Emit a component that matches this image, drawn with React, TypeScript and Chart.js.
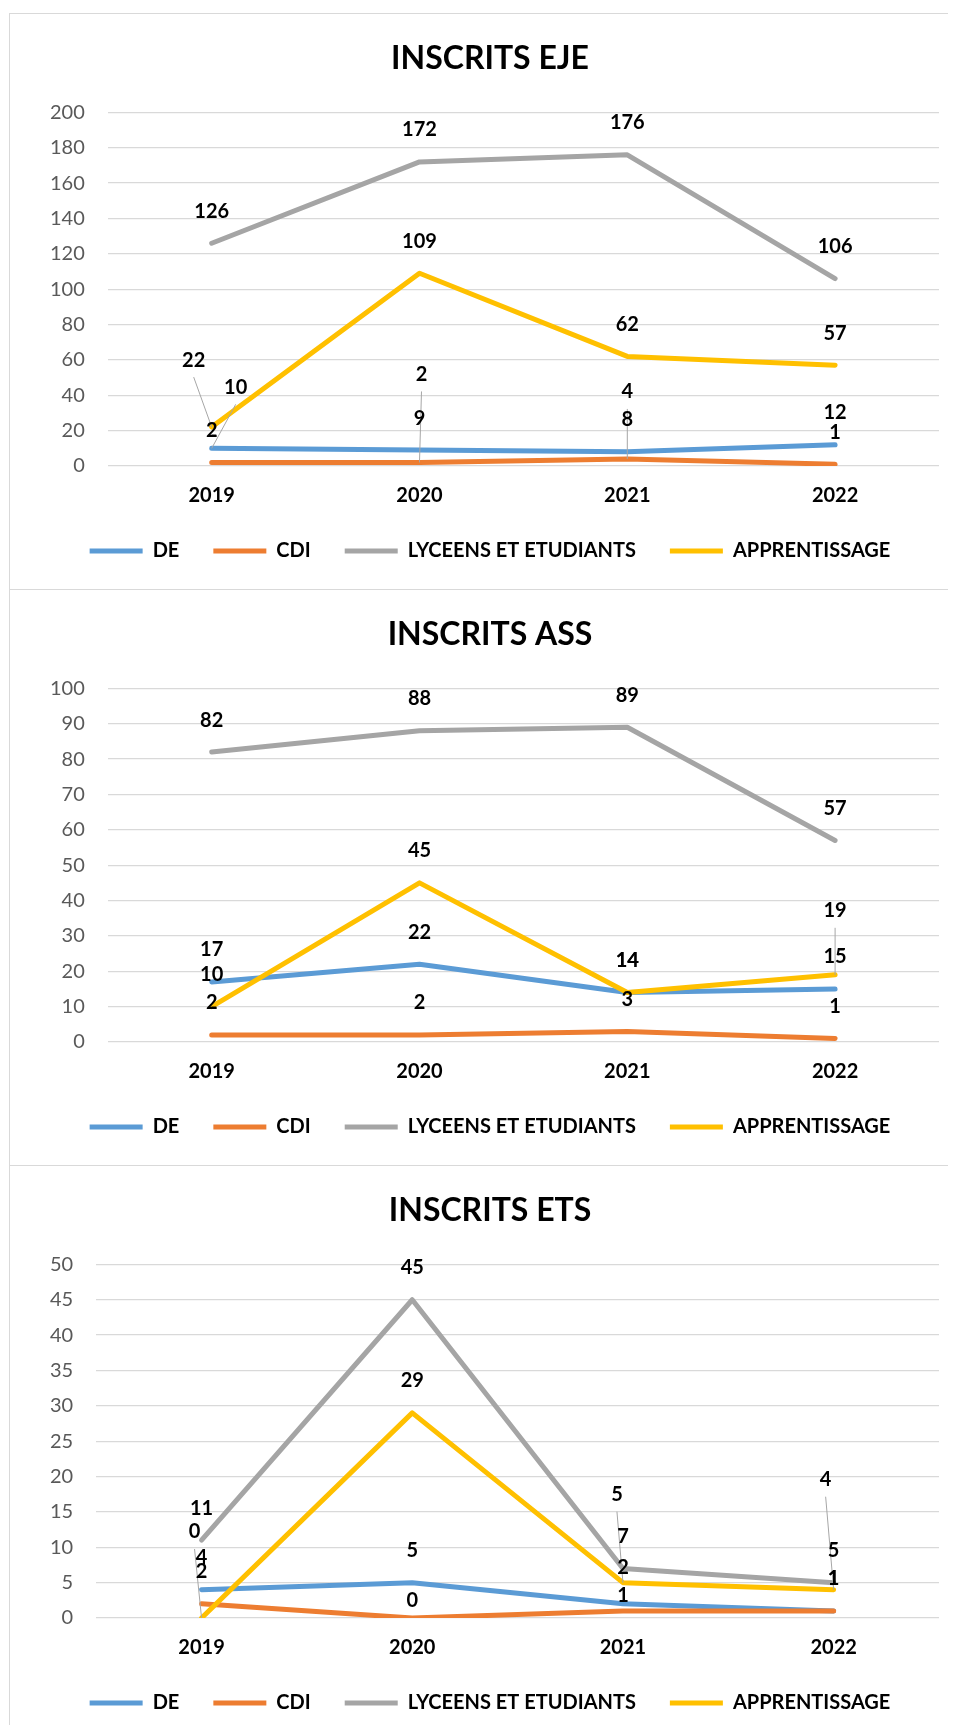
import React, { useEffect, useRef } from "react";
import { Chart, registerables } from "chart.js";

Chart.register(...registerables);

// ---------- data ----------
const categories = ["2019", "2020", "2021", "2022"];
const seriesNames = ["DE", "CDI", "LYCEENS ET ETUDIANTS", "APPRENTISSAGE"];
const seriesColors = ["#5B9BD5", "#ED7D31", "#A5A5A5", "#FFC000"];

const ejeTitle = "INSCRITS EJE";
const ejeDE = [10, 9, 8, 12];
const ejeCDI = [2, 2, 4, 1];
const ejeLycee = [126, 172, 176, 106];
const ejeApprent = [22, 109, 62, 57];
const ejeAxisMax = 200;
const ejeAxisStep = 20;

const assTitle = "INSCRITS ASS";
const assDE = [17, 22, 14, 15];
const assCDI = [2, 2, 3, 1];
const assLycee = [82, 88, 89, 57];
const assApprent = [10, 45, 14, 19];
const assAxisMax = 100;
const assAxisStep = 10;

const etsTitle = "INSCRITS ETS";
const etsDE = [4, 5, 2, 1];
const etsCDI = [2, 0, 1, 1];
const etsLycee = [11, 45, 7, 5];
const etsApprent = [0, 29, 5, 4];
const etsAxisMax = 50;
const etsAxisStep = 5;

// ---------- label placement (style, not data) ----------
type LabelTweak = { s: number; i: number; dx: number; dy: number; leader?: boolean };
const DEFAULT_LABEL_DY = -32;

const ejeLabelTweaks: LabelTweak[] = [
  { s: 3, i: 0, dx: -18, dy: -67, leader: true },
  { s: 0, i: 0, dx: 24, dy: -61, leader: true },
  { s: 1, i: 1, dx: 2, dy: -88, leader: true },
  { s: 1, i: 2, dx: 0, dy: -67, leader: true },
];
const assLabelTweaks: LabelTweak[] = [{ s: 3, i: 3, dx: 0, dy: -64, leader: true }];
const etsLabelTweaks: LabelTweak[] = [
  { s: 3, i: 0, dx: -7, dy: -86, leader: true },
  { s: 3, i: 2, dx: -6, dy: -88, leader: true },
  { s: 3, i: 3, dx: -8, dy: -110, leader: true },
  { s: 1, i: 1, dx: 0, dy: -17 },
  { s: 1, i: 2, dx: 0, dy: -15 },
  { s: 0, i: 2, dx: 0, dy: -36 },
];

const FONT = "Lato";
const LEGEND_PADDING = 34;

const labelPlugin = {
  id: "excelLabels",
  afterDatasetsDraw(chart: any, _args: any, opts: any) {
    const ctx: CanvasRenderingContext2D = chart.ctx;
    const tweaks: LabelTweak[] = opts.tweaks || [];
    const items: { x: number; y: number; px: number; py: number; text: string; leader: boolean }[] = [];
    chart.data.datasets.forEach((ds: any, s: number) => {
      const meta = chart.getDatasetMeta(s);
      meta.data.forEach((pt: any, i: number) => {
        const t = tweaks.find((k) => k.s === s && k.i === i);
        const dx = t ? t.dx : 0;
        const dy = t ? t.dy : DEFAULT_LABEL_DY;
        items.push({
          x: pt.x + dx,
          y: pt.y + dy,
          px: pt.x,
          py: pt.y,
          text: String(ds.data[i]),
          leader: !!(t && t.leader),
        });
      });
    });
    ctx.save();
    ctx.strokeStyle = "#A6A6A6";
    ctx.lineWidth = 1;
    items.forEach((it) => {
      if (!it.leader) return;
      ctx.beginPath();
      ctx.moveTo(it.x, it.y + 17);
      ctx.lineTo(it.px, it.py);
      ctx.stroke();
    });
    ctx.fillStyle = "#000";
    ctx.font = `bold 20px ${FONT}`;
    ctx.textAlign = "center";
    ctx.textBaseline = "middle";
    items.forEach((it) => ctx.fillText(it.text, it.x, it.y));
    ctx.restore();
  },
};

type PanelProps = {
  title: string;
  series: number[][];
  max: number;
  step: number;
  tweaks: LabelTweak[];
};

function Panel({ title, series, max, step, tweaks }: PanelProps) {
  const ref = useRef<HTMLCanvasElement>(null);
  useEffect(() => {
    const chart = new Chart(ref.current as HTMLCanvasElement, {
      type: "line",
      data: {
        labels: categories,
        datasets: series.map((vals, k) => ({
          label: seriesNames[k],
          data: vals,
          borderColor: seriesColors[k],
          backgroundColor: seriesColors[k],
          borderWidth: 5,
          borderCapStyle: "round",
          borderJoinStyle: "round",
          pointRadius: 0,
          pointHoverRadius: 0,
          tension: 0,
          fill: false,
          order: series.length - 1 - k,
        })),
      },
      options: {
        animation: false,
        responsive: true,
        maintainAspectRatio: false,
        events: [],
        layout: { padding: { left: 31, right: 17, top: 0, bottom: 18 } },
        plugins: {
          tooltip: { enabled: false },
          title: {
            display: true,
            text: title,
            color: "#000",
            font: { family: FONT, size: 32, weight: "bold" },
            padding: { top: 25, bottom: 35 },
          },
          legend: {
            position: "bottom",
            labels: {
              usePointStyle: true,
              pointStyle: "line",
              pointStyleWidth: 53,
              padding: LEGEND_PADDING,
              color: "#000",
              font: { family: FONT, size: 20, weight: "bold" },
              sort: (a: any, b: any) => a.datasetIndex - b.datasetIndex,
            },
          },
          excelLabels: { tweaks },
        } as any,
        scales: {
          x: {
            offset: true,
            grid: { display: false, drawTicks: false },
            border: { display: false },
            ticks: {
              color: "#000",
              font: { family: FONT, size: 20, weight: "bold" },
              padding: 18,
              maxRotation: 0,
              autoSkip: false,
            },
            afterFit: (s: any) => {
              s.height = 75 - LEGEND_PADDING;
            },
          },
          y: {
            min: 0,
            max,
            ticks: {
              stepSize: step,
              color: "#595959",
              font: { family: FONT, size: 20 },
              padding: 23,
            },
            grid: { color: "#D9D9D9", lineWidth: 1.3, drawTicks: false },
            border: { display: false },
            afterFit: (s: any) => {
              s.width = s.width - 14;
            },
          },
        },
      },
      plugins: [labelPlugin],
    } as any);
    return () => chart.destroy();
  }, []);
  return (
    <div
      style={{
        borderTop: "1px solid #D9D9D9",
        borderLeft: "1px solid #D9D9D9",
        width: 946,
        height: 575,
      }}
    >
      <div style={{ position: "relative", width: 946, height: 575 }}>
        <canvas ref={ref} />
      </div>
    </div>
  );
}

export default function App() {
  return (
    <div style={{ width: 948, height: 1717, overflow: "hidden", background: "#fff" }}>
      <div style={{ height: 5 }} />
      <div style={{ marginLeft: 1 }}>
        <Panel
          title={ejeTitle}
          series={[ejeDE, ejeCDI, ejeLycee, ejeApprent]}
          max={ejeAxisMax}
          step={ejeAxisStep}
          tweaks={ejeLabelTweaks}
        />
        <Panel
          title={assTitle}
          series={[assDE, assCDI, assLycee, assApprent]}
          max={assAxisMax}
          step={assAxisStep}
          tweaks={assLabelTweaks}
        />
        <Panel
          title={etsTitle}
          series={[etsDE, etsCDI, etsLycee, etsApprent]}
          max={etsAxisMax}
          step={etsAxisStep}
          tweaks={etsLabelTweaks}
        />
      </div>
    </div>
  );
}
